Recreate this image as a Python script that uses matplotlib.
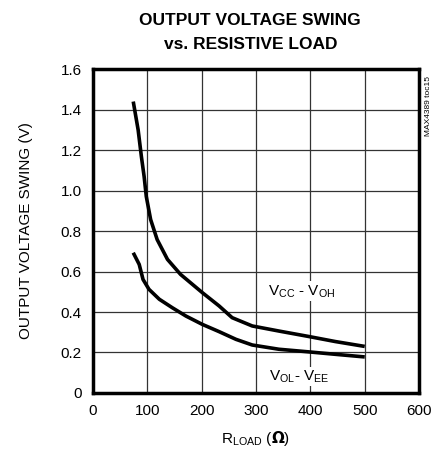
import matplotlib
matplotlib.use('Agg')
import matplotlib.pyplot as plt
import numpy as np

plt.rcParams['font.family'] = ['Liberation Sans Narrow', 'Liberation Sans', 'DejaVu Sans']

# curve data
r_hi = [74, 83, 89, 94, 98, 106, 118, 137, 161, 201, 232, 256, 293, 342, 397, 446, 500]
v_hi = [1.44, 1.30, 1.168, 1.07, 0.971, 0.857, 0.758, 0.66, 0.586, 0.496, 0.43,
        0.372, 0.331, 0.306, 0.279, 0.254, 0.23]

r_lo = [74, 85, 92, 103, 122, 146, 171, 201, 232, 263, 293, 342, 397, 446, 500]
v_lo = [0.693, 0.635, 0.561, 0.512, 0.463, 0.421, 0.38, 0.339, 0.303, 0.265,
        0.237, 0.216, 0.203, 0.191, 0.178]

xticks = [0, 100, 200, 300, 400, 500, 600]
yticks = [0, 0.2, 0.4, 0.6, 0.8, 1.0, 1.2, 1.4, 1.6]
ylabels = ['0', '0.2', '0.4', '0.6', '0.8', '1.0', '1.2', '1.4', '1.6']

fig = plt.figure(figsize=(4.43, 4.58), dpi=100)
ax = fig.add_axes([0.21, 0.142, 0.736, 0.707])

ax.plot(r_hi, v_hi, color='black', lw=2.6, solid_capstyle='butt', solid_joinstyle='round')
ax.plot(r_lo, v_lo, color='black', lw=2.6, solid_capstyle='butt', solid_joinstyle='round')

ax.set_xlim(0, 600)
ax.set_ylim(0, 1.6)
ax.set_xticks(xticks)
ax.set_yticks(yticks)
ax.set_yticklabels(ylabels)
ax.tick_params(length=0, labelsize=11, pad=8)
ax.grid(True, color='#333333', lw=0.9)
for s in ax.spines.values():
    s.set_linewidth(2.5)

ax.set_xlabel(r'R$_{\mathregular{LOAD}}$ ($\mathbf{\Omega}$)', fontsize=11, labelpad=8)
ax.set_ylabel('OUTPUT VOLTAGE SWING (V)', fontsize=11, labelpad=20)

ax.text(383, 0.503, r'V$_{\mathregular{CC}}$ - V$_{\mathregular{OH}}$', fontsize=11,
        ha='center', va='center', bbox=dict(facecolor='white', edgecolor='none', pad=1))
ax.text(380, 0.082, r'V$_{\mathregular{OL}}$- V$_{\mathregular{EE}}$', fontsize=11,
        ha='center', va='center', bbox=dict(facecolor='white', edgecolor='none', pad=1))

fig.text(0.565, 0.955, 'OUTPUT VOLTAGE SWING', fontsize=12.5, fontweight='bold',
         ha='center', va='center')
fig.text(0.565, 0.903, 'vs. RESISTIVE LOAD', fontsize=12.5, fontweight='bold',
         ha='center', va='center')
fig.text(0.968, 0.835, 'MAX4389 toc15', fontsize=6, rotation=90, ha='center', va='top')

fig.savefig('out.png', dpi=100)
